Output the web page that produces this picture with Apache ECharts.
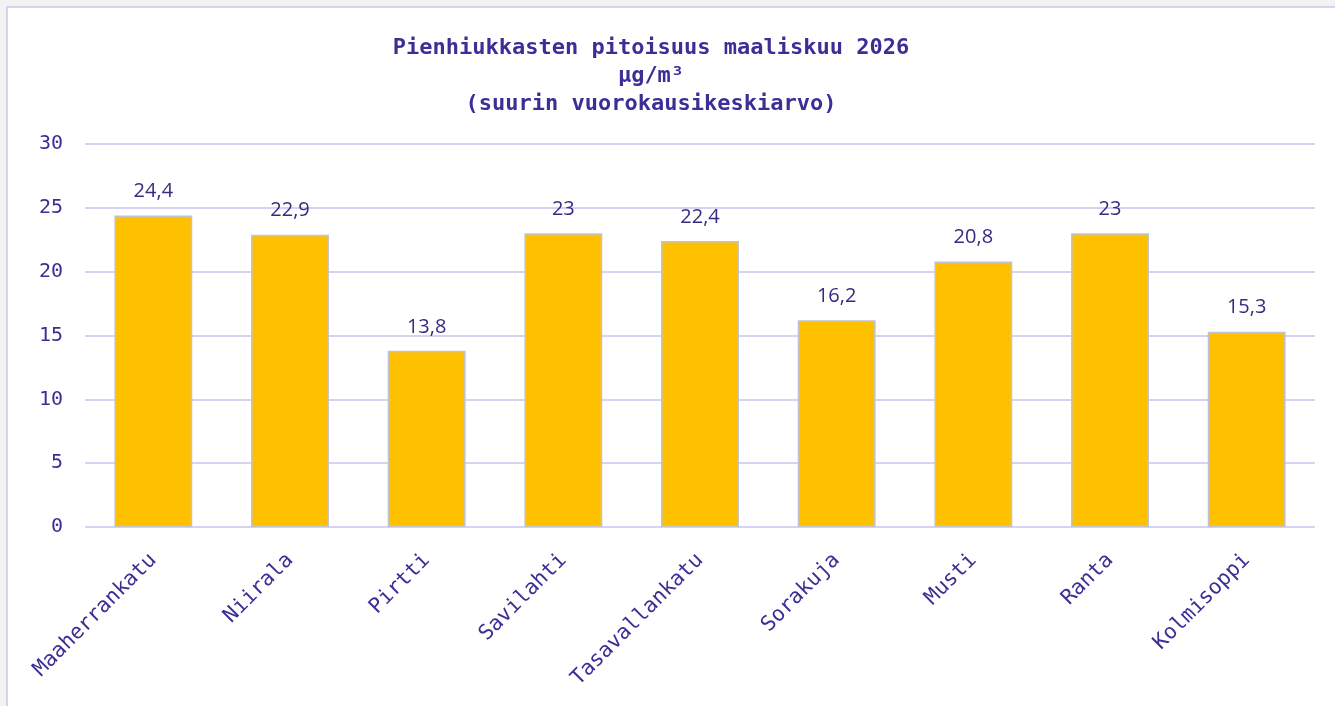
<!DOCTYPE html>
<html>
<head>
<meta charset="utf-8">
<script src="https://cdn.jsdelivr.net/npm/echarts@6/dist/echarts.min.js"></script>
<style>
  html, body { margin: 0; padding: 0; background: #f2f2f2; overflow: hidden; }
  #panel {
    position: absolute; left: 6px; top: 6px; width: 1400px; height: 800px;
    background: #ffffff; border: 2px solid #d6d2f2;
  }
  #chart { position: absolute; left: 0; top: 0; width: 1335px; height: 706px; }
</style>
</head>
<body>
<div id="panel"></div>
<div id="chart"></div>
<script>
// Measuring stations and their highest daily mean PM2.5 for the month
const stations = ['Maaherrankatu', 'Niirala', 'Pirtti', 'Savilahti', 'Tasavallankatu', 'Sorakuja', 'Musti', 'Ranta', 'Kolmisoppi'];
const maxDailyMean = [24.4, 22.9, 13.8, 23, 22.4, 16.2, 20.8, 23, 15.3];
const titleLines = ['Pienhiukkasten pitoisuus maaliskuu 2026', 'µg/m³', '(suurin vuorokausikeskiarvo)'];

const ink = '#3a2f96';
const mono = '"DejaVu Sans Mono", "Liberation Mono", monospace';

const chart = echarts.init(document.getElementById('chart'), null, { renderer: 'canvas' });
chart.setOption({
  backgroundColor: 'transparent',
  animation: false,
  title: {
    text: titleLines.join('\n'),
    left: 646,
    top: 29,
    textAlign: 'center',
    textStyle: {
      fontFamily: mono,
      fontWeight: 'bold',
      fontSize: 22,
      lineHeight: 28,
      color: ink
    }
  },
  grid: { left: 85, right: 20, top: 144, bottom: 179 },
  xAxis: {
    type: 'category',
    data: stations,
    axisLine: { show: false },
    axisTick: { show: false },
    axisLabel: {
      rotate: 45,
      margin: 30,
      interval: 0,
      fontFamily: mono,
      fontSize: 21,
      color: ink
    }
  },
  yAxis: {
    type: 'value',
    min: 0,
    max: 30,
    interval: 5,
    axisLine: { show: false },
    axisTick: { show: false },
    axisLabel: {
      margin: 22,
      fontFamily: mono,
      fontSize: 20,
      color: ink
    },
    splitLine: { lineStyle: { color: '#d6d2f2', width: 2 } }
  },
  series: [{
    type: 'bar',
    data: maxDailyMean,
    barWidth: '57%',
    itemStyle: { color: '#ffc000', borderColor: '#c2c2d2', borderWidth: 1.5 },
    label: {
      show: true,
      position: 'top',
      distance: 14,
      fontFamily: '"Open Sans", "Noto Sans", sans-serif',
      fontSize: 20,
      color: '#342c80',
      formatter: p => String(p.value).replace('.', ',')
    }
  }]
});
</script>
</body>
</html>
